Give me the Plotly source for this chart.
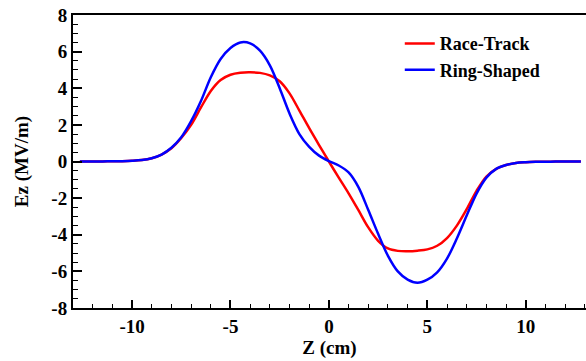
import plotly.graph_objects as go

z = [-12.65, -12, -11.5, -11, -10.5, -10, -9.5, -9, -8.5, -8, -7.5, -7, -6.5, -6,
     -5.5, -5, -4.5, -4, -3.5, -3, -2.5, -2, -1.5, -1, -0.5, 0, 0.5, 1, 1.5, 2,
     2.5, 3, 3.5, 4, 4.5, 5, 5.5, 6, 6.5, 7, 7.5, 8, 8.5, 9, 9.5, 10, 10.5, 11,
     11.5, 12, 12.8]

race_track = [0, 0, 0.005, 0.01, 0.02, 0.04, 0.08, 0.18, 0.38, 0.72, 1.28, 2.0, 2.95, 3.85,
              4.45, 4.74, 4.85, 4.87, 4.84, 4.7, 4.38, 3.72, 2.78, 1.82, 0.9, 0, -0.88, -1.74, -2.66, -3.6,
              -4.33, -4.75, -4.88, -4.9, -4.87, -4.8, -4.6, -4.18, -3.5, -2.6, -1.6, -0.82, -0.4, -0.19, -0.08, -0.04, -0.02, -0.01,
              -0.005, 0, 0]

ring_shaped = [0, 0, 0.005, 0.01, 0.02, 0.04, 0.08, 0.18, 0.38, 0.75, 1.32, 2.2, 3.3, 4.6,
               5.6, 6.2, 6.5, 6.45, 6.05, 5.25, 4.0, 2.62, 1.5, 0.8, 0.32, 0.02, -0.22, -0.6, -1.4, -2.65,
               -3.95, -5.15, -6.0, -6.45, -6.62, -6.45, -6.05, -5.3, -4.2, -2.95, -1.75, -0.88, -0.4, -0.19, -0.08, -0.04, -0.02, -0.01,
               -0.005, 0, 0]

x_ticks = [-10, -5, 0, 5, 10]
y_ticks = [-8, -6, -4, -2, 0, 2, 4, 6, 8]

FONT = "Liberation Serif"

fig = go.Figure()
fig.add_trace(go.Scatter(x=z, y=race_track, mode="lines", name="Race-Track",
                         line=dict(color="#ff0000", width=2.5, shape="spline", smoothing=0.9)))
fig.add_trace(go.Scatter(x=z, y=ring_shaped, mode="lines", name="Ring-Shaped",
                         line=dict(color="#0000ff", width=2.5, shape="spline", smoothing=0.9)))

fig.update_layout(
    width=586, height=361,
    margin=dict(l=73, r=0, t=15, b=53),
    paper_bgcolor="white", plot_bgcolor="white",
    font=dict(family=FONT, size=19, color="black", weight="bold"),
    showlegend=True,
    legend=dict(x=0.637, y=0.965, xanchor="left", yanchor="top",
                bgcolor="rgba(0,0,0,0)", font=dict(family=FONT, size=18, weight="bold")),
)

fig.update_xaxes(
    range=[-13, 13.06], tickvals=x_ticks, ticktext=[str(v) for v in x_ticks],
    showgrid=False, zeroline=False,
    showline=True, linecolor="black", linewidth=2, mirror=True,
    ticks="inside", ticklen=8, tickwidth=1.5, tickcolor="black",
    minor=dict(dtick=1, tick0=0, ticks="inside", ticklen=4, tickwidth=1, tickcolor="black"),
    tickfont=dict(family=FONT, size=19, weight="bold"),
    title=dict(text="Z (cm)", font=dict(family=FONT, size=19, weight="bold"), standoff=0),
)
fig.update_yaxes(
    range=[-8, 8], tickvals=y_ticks, ticktext=[str(v) for v in y_ticks],
    showgrid=False, zeroline=False,
    showline=True, linecolor="black", linewidth=2, mirror=False,
    ticks="inside", ticklen=9, tickwidth=1.5, tickcolor="black",
    minor=dict(dtick=0.5, tick0=0, ticks="inside", ticklen=5, tickwidth=1, tickcolor="black"),
    tickfont=dict(family=FONT, size=19, weight="bold"),
    title=dict(text="Ez (MV/m)", font=dict(family=FONT, size=19, weight="bold"), standoff=18),
)

fig.write_html("out.html", config={"displayModeBar": False},
               post_script="document.body.style.margin='0';document.body.style.padding='0';")
